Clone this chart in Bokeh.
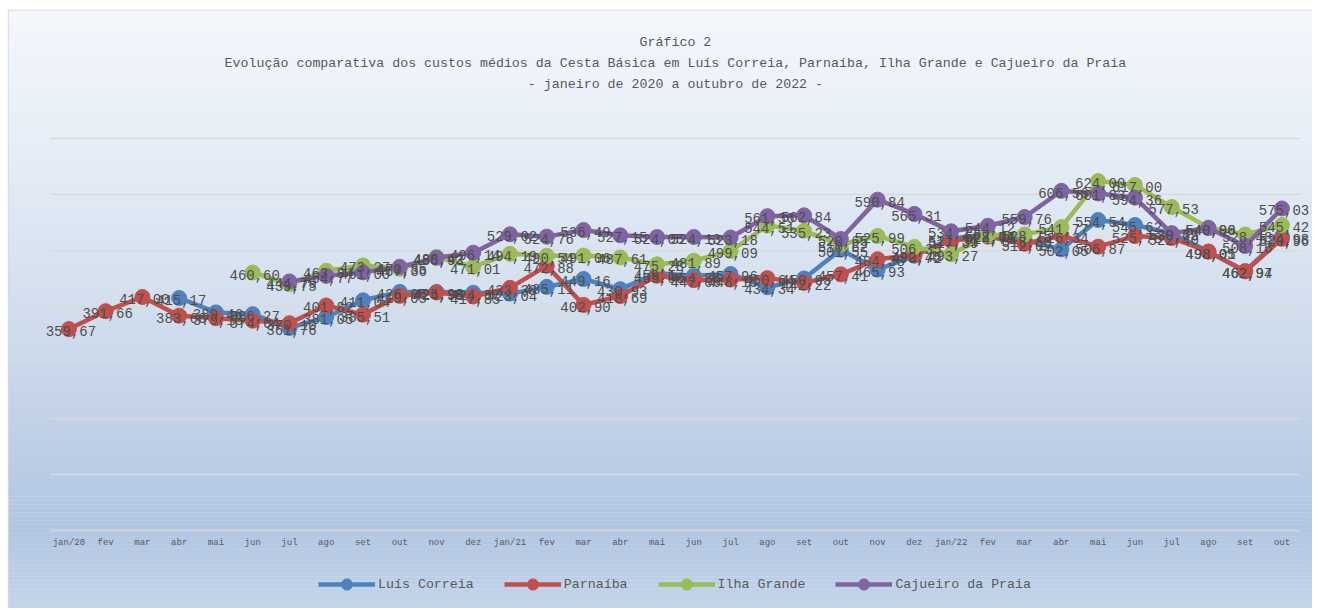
import math
from bokeh.plotting import figure
from bokeh.models import ColumnDataSource, Legend, LegendItem, Label
from bokeh.core.properties import value
from bokeh.embed import file_html
from bokeh.resources import INLINE

nan = float("nan")

months = ["jan/20", "fev", "mar", "abr", "mai", "jun", "jul", "ago", "set", "out", "nov", "dez",
          "jan/21", "fev", "mar", "abr", "mai", "jun", "jul", "ago", "set", "out", "nov", "dez",
          "jan/22", "fev", "mar", "abr", "mai", "jun", "jul", "ago", "set", "out"]

luis_correia = [nan, nan, nan, 415.17, 389.46, 386.27, 361.76, 381.05, 411.04, 426.05, 425.98, 424.57,
                423.04, 435.11, 449.16, 430.93, 459.17, 454.85, 457.96, 434.34, 450.05, 501.55, 465.93, 490.72,
                521.31, 528.41, 518.60, 502.05, 554.54, 545.62, 530.62, 498.01, 462.97, 524.98]

parnaiba = [359.67, 391.66, 417.00, 383.66, 379.13, 374.64, 370.10, 401.82, 385.51, 419.05, 424.98, 417.85,
            433.38, 472.88, 402.90, 418.69, 455.06, 447.06, 448.15, 450.64, 442.22, 457.41, 484.38, 492.45,
            517.39, 524.75, 512.02, 526.34, 506.87, 525.78, 522.40, 498.05, 462.94, 520.96]

ilha_grande = [nan, nan, nan, nan, nan, 460.60, 439.75, 463.84, 473.27, 467.36, 488.42, 471.01,
               494.19, 490.54, 491.06, 487.61, 475.28, 481.89, 499.09, 544.51, 535.23, 510.62, 525.99, 506.35,
               493.27, 527.04, 528.75, 541.77, 624.00, 617.00, 577.53, 540.90, 528.48, 545.42]

cajueiro = [nan, nan, nan, nan, nan, nan, 444.79, 454.77, 461.00, 470.85, 486.93, 496.14,
            529.02, 524.76, 536.49, 527.15, 524.05, 524.13, 523.18, 561.36, 562.84, 520.65, 590.84, 565.31,
            534.27, 544.12, 559.76, 606.56, 601.83, 594.36, 530.75, 540.06, 508.16, 575.03]

series_names = ["Luís Correia", "Parnaíba", "Ilha Grande", "Cajueiro da Praia"]
series_values = [luis_correia, parnaiba, ilha_grande, cajueiro]
series_colors = ["#4F81BD", "#C0504D", "#9BBB59", "#8064A2"]

grid_values = [0, 100, 200, 300, 400, 500, 600, 700]

title_lines = ["Gráfico 2",
               "Evolução comparativa dos custos médios da Cesta Básica em Luís Correia, Parnaíba, Ilha Grande e Cajueiro da Praia",
               "- janeiro de 2020 a outubro de 2022 -"]

FONT = "Liberation Mono"
# page geometry of the frame
FL, FR, FT, FB = 8, 1312, 10, 608
W, H = FR, FB
# scales: category i at page x = 68.4 + 36.76 i ; value v at page y = 530 - 0.56 v
X0 = (FL - 68.4) / 36.76
X1 = (FR - 68.4) / 36.76
Y1 = (530 - FT) / 0.56
Y0 = (530 - FB) / 0.56

p = figure(width=W, height=H, x_range=(X0, X1), y_range=(Y0, Y1),
           x_axis_type=None, y_axis_type=None, toolbar_location=None,
           output_backend="svg", min_border=0, min_border_left=FL, min_border_top=FT,
           min_border_right=0, min_border_bottom=0)
p.outline_line_color = "#D9D9D9"
p.outline_line_width = 1.5
p.background_fill_color = "#DCE5F0"
p.border_fill_color = "white"

# background gradient (page y -> rgb)
stops = [(0, (246, 249, 253)), (150, (230, 237, 246)), (300, (211, 223, 239)),
         (450, (189, 206, 229)), (530, (177, 198, 226)), (612, (198, 214, 235))]

def col_at(py):
    for (a, ca), (b, cb) in zip(stops[:-1], stops[1:]):
        if a <= py <= b:
            t = (py - a) / (b - a)
            c = [round(ca[i] + (cb[i] - ca[i]) * t) for i in range(3)]
            return "#%02x%02x%02x" % tuple(c)
    return "#%02x%02x%02x" % stops[-1][1]

N = 150
step = (Y1 - Y0) / N
bots, tops, cols = [], [], []
for i in range(N):
    b = Y0 + i * step
    t = b + step * 1.05
    mid = (b + t) / 2
    py = 530 - 0.56 * mid
    bots.append(b)
    tops.append(t)
    cols.append(col_at(py))
p.quad(left=X0, right=X1, bottom=bots, top=tops, fill_color=cols, line_color=None)

# gridlines
p.segment(x0=-0.5, x1=len(months) - 0.5, y0=grid_values, y1=grid_values,
          line_color="#D9D9D9", line_width=1.6)

xs = list(range(len(months)))
items = []
for name, vals, color in zip(series_names, series_values, series_colors):
    src = ColumnDataSource(dict(x=xs, y=vals))
    lr = p.line("x", "y", source=src, line_color=color, line_width=4.5)
    sr = p.scatter("x", "y", source=src, size=15, marker="circle",
                   fill_color=color, line_color=color)
    items.append(LegendItem(label=name, renderers=[lr, sr]))

# data labels
for vals in series_values:
    lx = [i for i, v in enumerate(vals) if not math.isnan(v)]
    ly = [v for v in vals if not math.isnan(v)]
    lt = [f"{v:.2f}".replace(".", ",") for v in ly]
    p.text(x=lx, y=ly, text=lt, text_font=value(FONT), text_font_size="14px",
           text_color="#4d4d4d", text_align="center", text_baseline="middle",
           x_offset=2, y_offset=2)

# category labels
p.text(x=xs, y=[-23] * len(xs), text=months, text_font=value(FONT), text_font_size="9px",
       text_color="#595959", text_align="center", text_baseline="middle")

# title
for k, line in enumerate(title_lines):
    p.add_layout(Label(x=16.5, x_units="data", y=FB - 42 - 21 * k, y_units="screen",
                       text=line, text_font=FONT, text_font_size="13.3px",
                       text_color="#595959", text_align="center", text_baseline="middle"))

legend = Legend(items=items, orientation="horizontal", location=(310, 10),
                glyph_width=57, glyph_height=28, label_standoff=3, spacing=30,
                padding=0, margin=0, border_line_alpha=0, background_fill_alpha=0,
                label_text_font=FONT, label_text_font_size="13.3px",
                label_text_color="#595959")
p.add_layout(legend)

open("out.html", "w").write(file_html(p, INLINE))
